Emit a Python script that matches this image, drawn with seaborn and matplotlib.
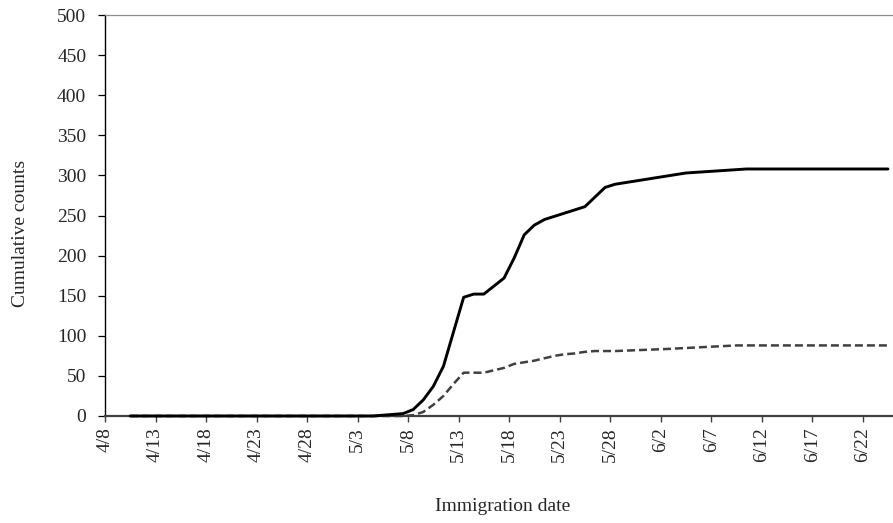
import matplotlib
matplotlib.use("Agg")
import matplotlib.pyplot as plt
import seaborn as sns
import pandas as pd
import numpy as np

# ---- data ----
year = 2015
solid_dates = ["4/10", "5/4", "5/5", "5/6", "5/7", "5/8", "5/9", "5/10", "5/11", "5/12",
               "5/13", "5/14", "5/15", "5/16", "5/17", "5/18", "5/19", "5/20", "5/21",
               "5/22", "5/23", "5/24", "5/25", "5/26", "5/27", "5/28", "6/4", "6/10", "6/24"]
solid_vals = [0, 0, 1, 2, 3, 8, 20, 37, 62, 105,
              148, 152, 152, 162, 172, 197, 226, 238, 245,
              249, 253, 257, 261, 273, 285, 289, 303, 308, 308]

dashed_dates = ["4/10", "5/7", "5/8", "5/9", "5/10", "5/11", "5/12", "5/13", "5/14", "5/15",
                "5/16", "5/17", "5/18", "5/19", "5/20", "5/21", "5/22", "5/23", "5/24",
                "5/25", "5/26", "5/27", "5/28", "6/2", "6/9", "6/24"]
dashed_vals = [0, 0, 1, 5, 14, 25, 40, 54, 54, 54,
               57, 60, 65, 67, 69, 72, 75, 77, 78,
               80, 81, 81, 81, 83.5, 88, 88]

tick_labels = ["4/8", "4/13", "4/18", "4/23", "4/28", "5/3", "5/8", "5/13", "5/18",
               "5/23", "5/28", "6/2", "6/7", "6/12", "6/17", "6/22"]
y_ticks = list(range(0, 501, 50))

start = pd.Timestamp(f"{year}-04-08")

def to_day(lbls):
    return [(pd.to_datetime(f"{year}/{l}", format="%Y/%m/%d") - start).days for l in lbls]

df_solid = pd.DataFrame({"day": to_day(solid_dates), "count": solid_vals})
df_dash = pd.DataFrame({"day": to_day(dashed_dates), "count": dashed_vals})

# ---- plot ----
sns.set_style("white")
plt.rcParams["font.family"] = ["Liberation Serif", "DejaVu Serif"]
FS = 14

fig = plt.figure(figsize=(8.93, 5.23), dpi=100)
ax = fig.add_axes([105 / 893, 107 / 523, 1 - 105 / 893, 401 / 523])

sns.lineplot(data=df_dash, x="day", y="count", ax=ax, color="#404040",
             linewidth=1.8, dashes=False)
ax.lines[-1].set_dashes([3.2, 1.6])
sns.lineplot(data=df_solid, x="day", y="count", ax=ax, color="black",
             linewidth=2.1)
for ln in ax.lines:
    ln.set_zorder(3)
    ln.set_clip_on(False)

tick_pos = [d - 0.5 for d in to_day(tick_labels)]
ax.set_xticks(tick_pos)
ax.set_xticklabels(tick_labels, rotation=90, fontsize=FS)
ax.set_xlim(-0.5, 77.5)
ax.set_ylim(0, 500)
ax.set_yticks(y_ticks)
ax.set_yticklabels([str(v) for v in y_ticks], fontsize=FS)

ax.tick_params(axis="y", direction="out", length=5, width=0.9, color="black",
               left=True, pad=8.5)
ax.tick_params(axis="x", direction="out", length=4, width=1.0, color="#404040",
               bottom=True, pad=4)

ax.spines["left"].set_color("black")
ax.spines["left"].set_linewidth(1.0)
ax.spines["bottom"].set_color("#404040")
ax.spines["bottom"].set_linewidth(1.6)
ax.spines["top"].set_color("#8c8c8c")
ax.spines["top"].set_linewidth(0.9)
ax.spines["right"].set_visible(False)

ax.set_xlabel("Immigration date", fontsize=FS, va="top")
ax.xaxis.set_label_coords(0.504, -0.2045)
ax.set_ylabel("Cumulative counts", fontsize=FS)
ax.yaxis.set_label_coords(-0.097, 0.456)

fig.savefig("out.png", dpi=100)
